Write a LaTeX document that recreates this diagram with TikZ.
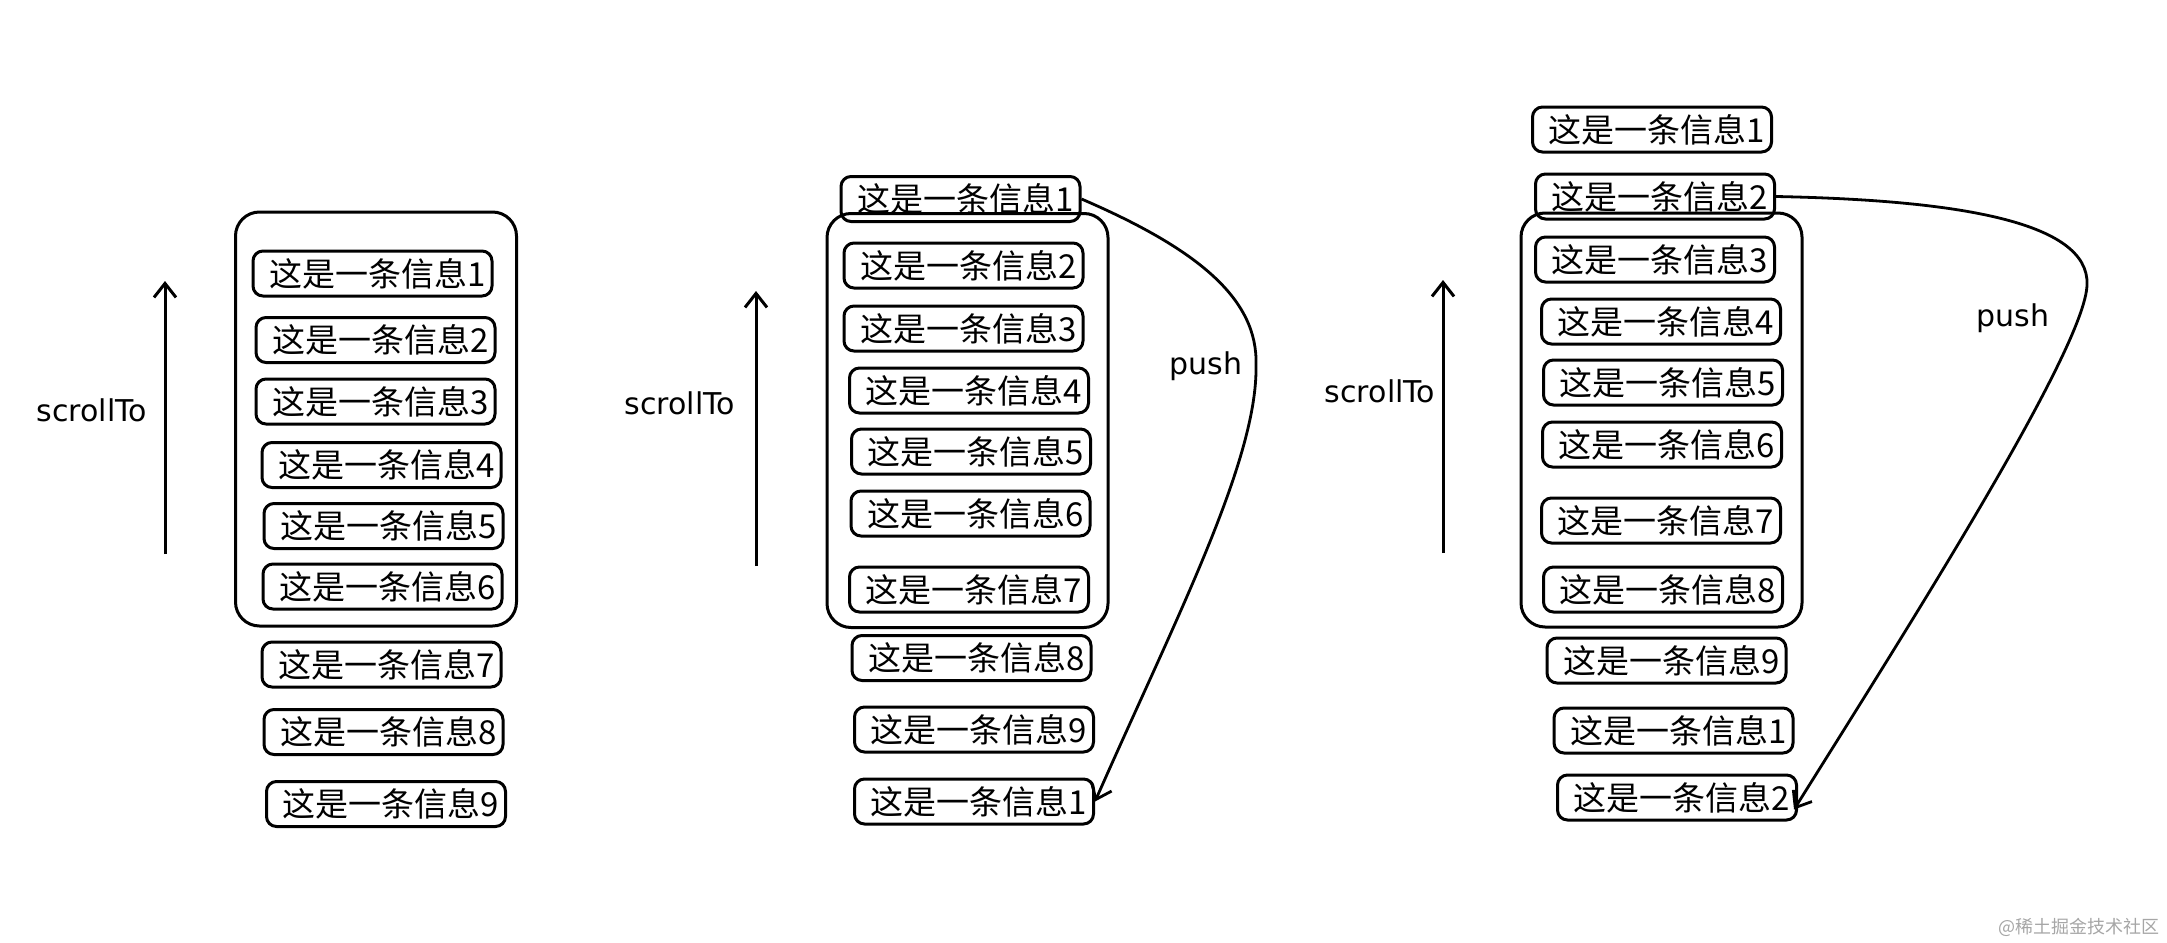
\documentclass[tikz,border=0pt]{standalone}
\usepackage{fontspec}
\newfontfamily\cjk{Noto Sans CJK SC}
\newfontfamily\hand{DejaVu Sans}
\usetikzlibrary{arrows.meta}
\tikzset{
  msg/.style={draw, line width=1.5pt, rounded corners=5pt, minimum width=119.5pt,
    minimum height=22.5pt, inner sep=0pt, text width=113pt, align=right,
    font=\cjk\fontsize{16.5}{18}\selectfont},
  win/.style={draw, line width=1.5pt, rounded corners=12pt, inner sep=0pt,
    minimum width=140.5pt, minimum height=207pt},
  lbl/.style={font=\hand\fontsize{15}{18}\selectfont, inner sep=0pt},
}
\begin{document}
\begin{tikzpicture}[x=0.5pt,y=-0.5pt,>={Straight Barb[length=7pt,width=11pt]}]
  \useasboundingbox (0,0) rectangle (2167,942);

  % first list
  \node[win] (win1) at (376,419) {};
  \foreach \i/\x/\y/\n in {1/372.5/273.5/1, 2/375.5/340/2, 3/375.5/401.5/3,
      4/381.5/465/4, 5/383.5/526/5, 6/382.5/586.5/6, 7/381.5/664.5/7,
      8/383.5/732/8, 9/386/804/9}
    \node[msg] (a\i) at (\x,\y) {这是一条信息\n};
  \coordinate (s1) at (165,554);
  \coordinate (t1) at (165,281);
  \draw[->, line width=1.5pt] (s1) -- (t1);
  \node[lbl] (up1) at (92,410) {scrollTo};

  % second list
  \node[win] (win2) at (967.5,420.5) {};
  \foreach \i/\x/\y/\n in {1/960.5/199/1, 2/963.5/265.5/2, 3/963.5/328.5/3,
      4/969/390.5/4, 5/971/451.5/5, 6/970.5/513.5/6, 7/969/589.5/7,
      8/971.5/658/8, 9/974/729.5/9, 10/974/801.5/1}
    \node[msg] (b\i) at (\x,\y) {这是一条信息\n};
  \coordinate (s2) at (756,566);
  \coordinate (t2) at (756,291);
  \draw[->, line width=1.5pt] (s2) -- (t2);
  \node[lbl] (up2) at (680,403) {scrollTo};
  \coordinate (bend2) at (1256,365);
  \draw[->, line width=1.4pt] (b1.east) .. controls (1200,250) and (1258,300) .. (bend2)
    .. controls (1258,460) and (1175,620) .. (b10.east);
  \node[lbl] (push2) at (1206,366) {push};

  % third list
  \node[win] (win3) at (1661.5,420) {};
  \foreach \i/\x/\y/\n in {1/1652/129.5/1, 2/1655/196.5/2, 3/1655/259.5/3,
      4/1661/321.5/4, 5/1663/382.5/5, 6/1662/444.5/6, 7/1661/520.5/7,
      8/1663/589.5/8, 9/1666.5/660.5/9, 10/1673.5/730.5/1, 11/1677/797.5/2}
    \node[msg] (c\i) at (\x,\y) {这是一条信息\n};
  \coordinate (s3) at (1443,553);
  \coordinate (t3) at (1443,280);
  \draw[->, line width=1.5pt] (s3) -- (t3);
  \node[lbl] (up3) at (1380,391) {scrollTo};
  \coordinate (bend3) at (2087,285);
  \draw[->, line width=1.4pt] (c2.east) .. controls (1950,200) and (2090,220) .. (bend3)
    .. controls (2085,350) and (1900,640) .. ([xshift=-2pt,yshift=-6pt]c11.east);
  \node[lbl] (push3) at (2013,318) {push};

  \node[font=\cjk\fontsize{9}{10}\selectfont, text=gray!70, anchor=east, inner sep=0pt]
    (mark) at (2160,927) {@稀土掘金技术社区};
\end{tikzpicture}
\end{document}
